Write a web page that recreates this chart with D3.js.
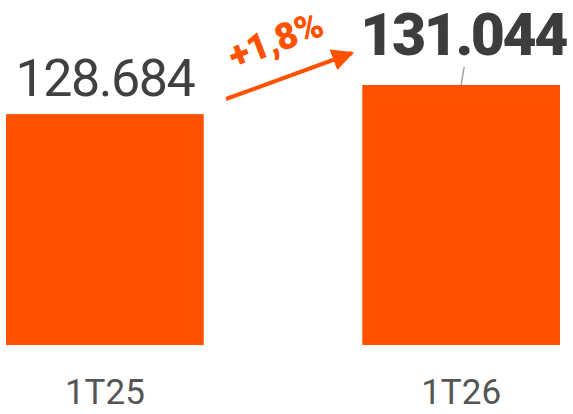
<!DOCTYPE html>
<html>
<head>
<meta charset="utf-8">
<script src="https://cdn.jsdelivr.net/npm/d3@7"></script>
<style>
  html, body { margin: 0; padding: 0; background: #fff; }
  svg { display: block; }
</style>
</head>
<body>
<svg id="chart"></svg>
<script>
// Données
const periods = ["1T25", "1T26"];
const values = [128684, 131044];
const valueLabels = ["128.684", "131.044"];
const growthLabel = "+1,8%";

const width = 573;
const height = 414;
const orange = "#ff5100";

const svg = d3.select("#chart")
  .attr("width", width)
  .attr("height", height);

// Échelles (axe tronqué, comme dans l'original)
const x = d3.scaleBand()
  .domain(periods)
  .range([6, 560])
  .paddingInner(0.445)
  .paddingOuter(0);

const y = d3.scaleLinear()
  .domain([110000, 131044])
  .range([345, 85]);

// Barres
svg.selectAll("rect.bar")
  .data(values)
  .enter()
  .append("rect")
  .attr("class", "bar")
  .attr("x", (d, i) => x(periods[i]))
  .attr("y", d => y(d))
  .attr("width", x.bandwidth())
  .attr("height", d => y.range()[0] - y(d))
  .attr("fill", orange);

// Étiquettes de l'axe x
svg.selectAll("text.period")
  .data(periods)
  .enter()
  .append("text")
  .attr("class", "period")
  .attr("x", d => x(d) + x.bandwidth() / 2)
  .attr("y", 404)
  .attr("text-anchor", "middle")
  .attr("font-family", "Roboto, sans-serif")
  .attr("font-size", "35px")
  .attr("fill", "#555")
  .text(d => d);

// Valeur 1T25 (normale)
const cx0 = x(periods[0]) + x.bandwidth() / 2;
svg.append("text")
  .attr("x", cx0)
  .attr("y", y(values[0]) - 18)
  .attr("text-anchor", "middle")
  .attr("font-family", "Roboto, sans-serif")
  .attr("font-size", "52px")
  .attr("letter-spacing", "-1.5px")
  .attr("fill", "#404040")
  .text(valueLabels[0]);

// Valeur 1T26 (gras) + petit trait gris
const cx1 = x(periods[1]) + x.bandwidth() / 2;
svg.append("line")
  .attr("x1", cx1 + 3)
  .attr("y1", y(values[1]) - 18)
  .attr("x2", cx1)
  .attr("y2", y(values[1]))
  .attr("stroke", "#a0a0a0")
  .attr("stroke-width", 1.5);

svg.append("text")
  .attr("x", cx1 + 2)
  .attr("y", y(values[1]) - 30)
  .attr("text-anchor", "middle")
  .attr("font-family", "Roboto, sans-serif")
  .attr("font-weight", "900")
  .attr("font-size", "59px")
  .attr("letter-spacing", "-2.5px")
  .attr("fill", "#3d3d3d")
  .text(valueLabels[1]);

// Flèche de croissance
const defs = svg.append("defs");
defs.append("marker")
  .attr("id", "arrowhead")
  .attr("viewBox", "0 0 10 10")
  .attr("refX", 9)
  .attr("refY", 5)
  .attr("markerWidth", 5.5)
  .attr("markerHeight", 5.5)
  .attr("orient", "auto")
  .append("path")
  .attr("d", "M0,0 L10,5 L0,10 Z")
  .attr("fill", orange);

svg.append("line")
  .attr("x1", 226)
  .attr("y1", 99)
  .attr("x2", 352)
  .attr("y2", 53)
  .attr("stroke", orange)
  .attr("stroke-width", 4)
  .attr("marker-end", "url(#arrowhead)");

svg.append("text")
  .attr("transform", "translate(280,52) rotate(-21)")
  .attr("text-anchor", "middle")
  .attr("font-family", "Roboto, sans-serif")
  .attr("font-weight", "900")
  .attr("font-size", "37px")
  .attr("letter-spacing", "-0.5px")
  .attr("fill", orange)
  .text(growthLabel);
</script>
</body>
</html>
